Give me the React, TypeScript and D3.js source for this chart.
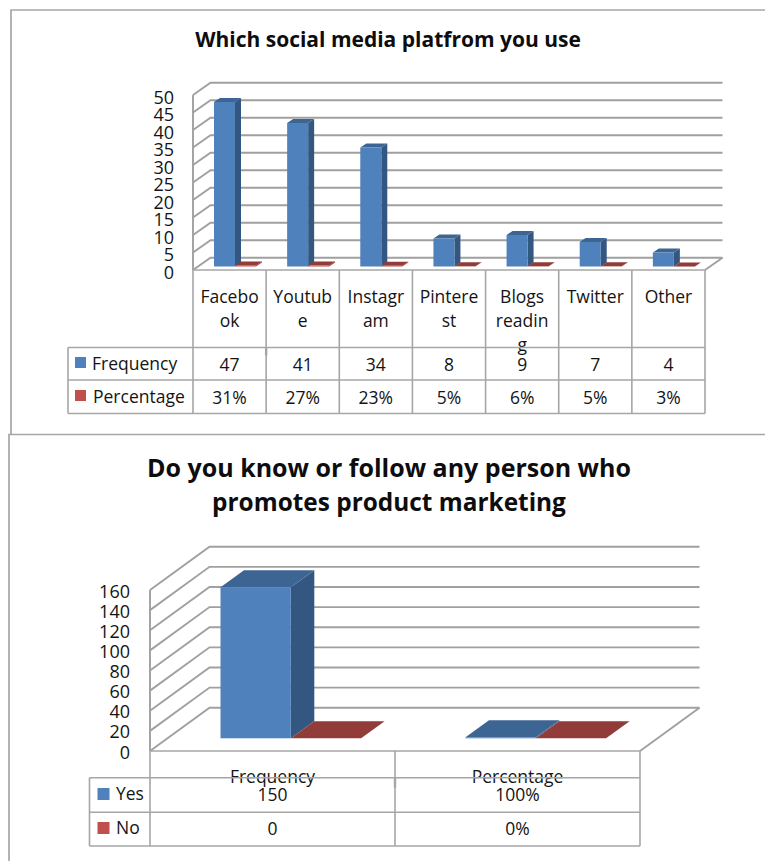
import React from "react";
import * as d3 from "d3";

const platforms = [["Facebo", "ok"], ["Youtub", "e"], ["Instagr", "am"], ["Pintere", "st"], ["Blogs", "readin", "g"], ["Twitter"], ["Other"]];
const platformFrequency = [47, 41, 34, 8, 9, 7, 4];
const platformPercentage = [31, 27, 23, 5, 6, 5, 3];
const platformTicks = [0, 5, 10, 15, 20, 25, 30, 35, 40, 45, 50];

const promoterCategories = [["Frequency"], ["Percentage"]];
const promoterYes = [150, 100];
const promoterNo = [0, 0];
const promoterTicks = [0, 20, 40, 60, 80, 100, 120, 140, 160];

const BLUE = "#4f81bd";
const BLUE_TOP = "#3d6594";
const BLUE_SIDE = "#335780";
const RED = "#c0504d";
const RED_TOP = "#913c39";
const GRID = "#a0a0a0";
const RULE = "#a6a6a6";
const INK = "#141414";
const FONT = "'Open Sans', sans-serif";

type Series = { name: string; color: string; top: string; side: string; values: number[]; cells: string[] };

type ChartProps = {
  plot: { x0: number; x1: number; y0: number; yMax: number; dx: number; dy: number };
  domainMax: number;
  ticks: number[];
  tickX: number;
  tickDy: number;
  categories: string[][];
  series: Series[];
  bar: { offset: number; width: number; inset: number; bx: number; by: number };
  table: { left: number; rows: number[]; labelY: number[]; swatchX: number; labelX: number[]; catY: number; catStep: number; swatch: number; swatchY: number[]; mark: number };
  fontSize: number;
  axisSize: number;
};

function Chart3D({ plot, domainMax, ticks, tickX, tickDy, categories, series, bar, table, fontSize, axisSize }: ChartProps) {
  const h = d3.scaleLinear().domain([0, domainMax]).range([0, plot.y0 - plot.yMax]);
  const col = d3.scaleBand<number>().domain(d3.range(categories.length)).range([plot.x0, plot.x1]);
  const { dx, dy } = plot;
  const poly = (pts: [number, number][]) => d3.line()(pts) + "Z";
  const colEdges = [...col.domain().map((i) => col(i)!), plot.x1];

  return (
    <g fontFamily={FONT} fill={INK}>
      {/* wall and floor */}
      <g fill="none" stroke={GRID} strokeWidth={1.9}>
        {ticks.map((t) => (
          <path key={t} d={d3.line()([[plot.x0, plot.y0 - h(t)], [plot.x0 + dx, plot.y0 - h(t) - dy], [plot.x1 + dx, plot.y0 - h(t) - dy]])!} />
        ))}
        <path d={d3.line()([[plot.x0, plot.y0], [plot.x0, plot.yMax]])!} />
        <path d={d3.line()([[plot.x1, plot.y0], [plot.x1 + dx, plot.y0 - dy]])!} />
      </g>

      {/* columns, back to front within each category */}
      {categories.map((_, i) =>
        series.map((s, k) => {
          const x = col(i)! + bar.offset + k * bar.width;
          const base = plot.y0 - bar.inset;
          const top = base - h(s.values[i]);
          const w = bar.width;
          return (
            <g key={`${i}-${k}`}>
              <path d={poly([[x + w, base], [x + w + bar.bx, base - bar.by], [x + w + bar.bx, top - bar.by], [x + w, top]])} fill={s.side} />
              <path d={poly([[x, top], [x + bar.bx, top - bar.by], [x + w + bar.bx, top - bar.by], [x + w, top]])} fill={s.top} />
              <rect x={x} y={top} width={w} height={base - top} fill={s.color} />
            </g>
          );
        })
      )}

      {/* value axis */}
      <g textAnchor="end" fontSize={axisSize}>
        {ticks.map((t) => (
          <text key={t} x={tickX} y={plot.y0 - h(t) + tickDy}>{t}</text>
        ))}
      </g>

      {/* data table text, with the rules drawn across it afterwards */}
      <g fontSize={fontSize}>
        <g textAnchor="middle">
          {categories.map((lines, i) => (
            <text key={i} x={col(i)! + col.bandwidth() / 2} y={table.catY}>
              {lines.map((l, j) => (
                <tspan key={j} x={col(i)! + col.bandwidth() / 2} y={table.catY + j * table.catStep}>{l}</tspan>
              ))}
            </text>
          ))}
          {series.map((s, k) =>
            s.cells.map((c, i) => (
              <text key={`${k}-${i}`} x={col(i)! + col.bandwidth() / 2} y={table.labelY[k]}>{c}</text>
            ))
          )}
        </g>
        {series.map((s, k) => (
          <g key={s.name}>
            <rect x={table.swatchX} y={table.swatchY[k]} width={table.swatch} height={table.swatch} fill={s.color} />
            <text x={table.labelX[k]} y={table.labelY[k] - 1}>{s.name}</text>
          </g>
        ))}
      </g>

      {/* data table rules */}
      <g fill="none" stroke={RULE} strokeWidth={1.6}>
        <path d={d3.line()([[plot.x0, plot.y0], [plot.x1, plot.y0]])!} />
        {colEdges.map((x) => (
          <path key={x} d={d3.line()([[x, plot.y0], [x, table.rows[2]]])!} />
        ))}
        <path d={d3.line()([[table.left, table.rows[0]], [table.left, table.rows[2]]])!} />
        {table.rows.map((y) => (
          <path key={y} d={d3.line()([[table.left, y], [plot.x1, y]])!} />
        ))}
        <path d={d3.line()([[colEdges[1], table.rows[0]], [colEdges[1], table.rows[0] + table.mark]])!} strokeWidth={2.4} />
      </g>
    </g>
  );
}

export default function App() {
  const platformSeries: Series[] = [
    { name: "Frequency", color: BLUE, top: BLUE_TOP, side: BLUE_SIDE, values: platformFrequency, cells: platformFrequency.map(String) },
    { name: "Percentage", color: RED, top: RED_TOP, side: RED_TOP, values: platformPercentage.map((p) => p / 100), cells: platformPercentage.map((p) => `${p}%`) },
  ];
  const promoterSeries: Series[] = [
    { name: "Yes", color: BLUE, top: BLUE_TOP, side: BLUE_SIDE, values: promoterYes.map((v, i) => (i === 1 ? v / 100 : v)), cells: ["150", "100%"] },
    { name: "No", color: RED, top: RED_TOP, side: RED_TOP, values: promoterNo, cells: ["0", "0%"] },
  ];

  return (
    <svg width={765} height={861} viewBox="0 0 765 861" style={{ position: "absolute", left: 0, top: 0, background: "#fff" }}>
      <g fill="none" stroke="#a6a6a6" strokeWidth={1.7}>
        <path d="M765 10H11V434" />
        <path d="M765 434.5H9V861" />
      </g>

      <text x={388} y={47} textAnchor="middle" fontFamily={FONT} fontWeight={700} fontSize={21} fill="#0d0d0d">
        Which social media platfrom you use
      </text>
      <Chart3D
        plot={{ x0: 193, x1: 705, y0: 270, yMax: 95, dx: 17.5, dy: 12.3 }}
        domainMax={50}
        ticks={platformTicks}
        tickX={174}
        tickDy={8.5}
        categories={platforms}
        series={platformSeries}
        bar={{ offset: 21, width: 21, inset: 3.5, bx: 6, by: 4 }}
        table={{ left: 68, rows: [347.5, 380, 413.5], labelY: [370.5, 403.5], swatchX: 75, labelX: [92, 93], catY: 303, catStep: 24, swatch: 11, swatchY: [357, 390], mark: 8 }}
        fontSize={17.5}
        axisSize={18}
      />

      <text textAnchor="middle" fontFamily={FONT} fontWeight={700} fill="#0d0d0d">
        <tspan x={389} y={477} fontSize={25}>Do you know or follow any person who</tspan>
        <tspan x={389} y={511} fontSize={24.4}>promotes product marketing</tspan>
      </text>
      <Chart3D
        plot={{ x0: 150, x1: 640, y0: 751, yMax: 590, dx: 59.5, dy: 43.3 }}
        domainMax={160}
        ticks={promoterTicks}
        tickX={130}
        tickDy={7.5}
        categories={promoterCategories}
        series={promoterSeries}
        bar={{ offset: 70.5, width: 70.3, inset: 12.7, bx: 23.5, by: 17 }}
        table={{ left: 89.5, rows: [777.7, 812.3, 846], labelY: [801, 835], swatchX: 97.5, labelX: [116, 116], catY: 783, catStep: 24, swatch: 12, swatchY: [788, 822], mark: 10 }}
        fontSize={17.5}
        axisSize={18}
      />
    </svg>
  );
}
